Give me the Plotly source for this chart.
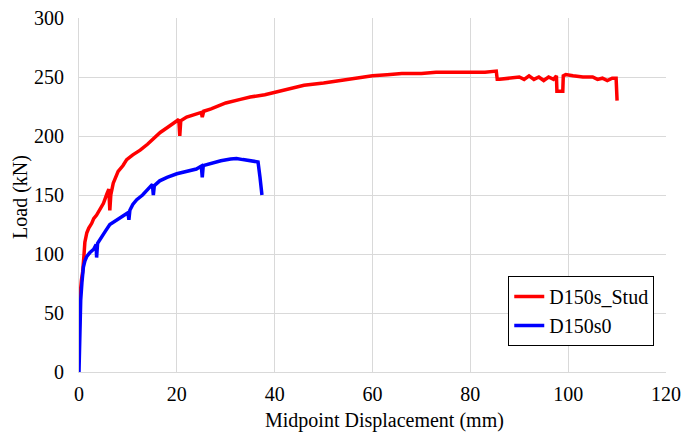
import plotly.graph_objects as go

stud_x = [0, 0.2, 0.5, 0.75, 1.0, 1.2, 1.6, 2.0, 2.6, 3.0, 3.6, 4.2, 5.0, 5.7, 6.1, 6.3, 6.5, 7.0, 8.0, 9.0, 9.75,
          11, 12.5, 14, 15, 16.6, 18, 19.5, 20.4, 20.6, 20.8, 22, 23.5, 25.0, 25.2, 25.5, 27, 30, 33, 35, 38, 40,
          43, 46, 50, 53, 56, 60, 63, 66, 70, 73, 76, 80, 83, 85.3, 85.5, 86, 88, 89, 90, 91, 92, 93, 94, 95, 96,
          97, 97.6, 97.7, 98.9, 99.0, 99.5, 101, 103, 105, 106, 107, 108, 109, 109.8, 110.0]
stud_y = [25, 64, 78, 85, 98, 110, 118, 122, 126, 130, 133, 138, 143, 151, 155, 137, 150, 160, 170, 175, 180,
          184, 188, 193, 197, 203, 207, 211, 214, 200, 213, 216, 218, 220, 216, 221, 223, 228, 231, 233, 235, 237,
          240, 243, 245, 247, 249, 251, 252, 253, 253, 254, 254, 254, 254, 255, 248, 248, 249, 249, 250, 248, 251,
          248, 250, 247, 250, 248, 251, 238, 238, 251, 252, 251, 250, 250, 248, 249, 247, 249, 249, 230]

s0_x = [0, 0.1, 0.35, 0.6, 0.9, 1.2, 1.6, 2.2, 3.0, 3.5, 3.6, 3.8, 4.5, 5.5, 6.3, 7.5, 8.5, 9.5, 10.0, 10.2, 10.4,
        11, 11.8, 13, 14, 15.0, 15.2, 15.4, 16.5, 18, 20, 22, 24, 25.0, 25.2, 25.4, 27, 29, 31, 32.2, 33.5, 35,
        36, 36.6, 37.0, 37.4]
s0_y = [0, 24, 61, 76, 89, 94, 98, 101, 104, 108, 97, 109, 114, 120, 125, 128, 131, 133, 135, 129, 137,
        142, 146, 150, 154, 159, 150, 158, 162, 165, 168, 170, 172, 174.5, 165, 175, 177, 179, 180.5, 181, 180, 179,
        179, 178, 165, 150]

x_ticks = [0, 20, 40, 60, 80, 100, 120]
y_ticks = [0, 50, 100, 150, 200, 250, 300]
x_title = "Midpoint Displacement (mm)"
y_title = "Load (kN)"

font = "Liberation Serif, Times New Roman, serif"

fig = go.Figure()
fig.add_trace(go.Scatter(x=stud_x, y=stud_y, mode="lines", name="D150s_Stud",
                         line=dict(color="#ff0000", width=3.5)))
fig.add_trace(go.Scatter(x=s0_x, y=s0_y, mode="lines", name="D150s0",
                         line=dict(color="#0000ff", width=3.5)))

fig.update_layout(
    width=682, height=433,
    margin=dict(l=79, r=16, t=18, b=61),
    paper_bgcolor="white", plot_bgcolor="white",
    font=dict(family=font, size=20, color="#000000"),
    showlegend=True,
    legend=dict(x=0.98, y=0.271, xanchor="right", yanchor="top",
                bordercolor="#000000", borderwidth=1, bgcolor="white",
                font=dict(family=font, size=20), tracegroupgap=0, itemwidth=30),
    xaxis=dict(range=[0, 120], tickvals=x_ticks, showgrid=True, gridcolor="#d9d9d9", gridwidth=1,
               zeroline=False, showline=True, linecolor="#d9d9d9", linewidth=1, mirror=False,
               ticks="", ticklabelstandoff=4, automargin=False),
    yaxis=dict(range=[0, 300], tickvals=y_ticks, showgrid=True, gridcolor="#d9d9d9", gridwidth=1,
               zeroline=False, showline=True, linecolor="#d9d9d9", linewidth=1,
               ticks="", ticklabelstandoff=10, automargin=False),
    annotations=[
        dict(text=x_title, xref="paper", yref="paper", x=0.5196, y=-0.1356,
             xanchor="center", yanchor="middle", showarrow=False, font=dict(size=20)),
        dict(text=y_title, xref="paper", yref="paper", x=-0.0997, y=0.496, textangle=-90,
             xanchor="center", yanchor="middle", showarrow=False, font=dict(size=20)),
    ],
)

fig.write_html("out.html", config={"displayModeBar": False},
               post_script="document.body.style.margin='0';document.body.style.padding='0';")
